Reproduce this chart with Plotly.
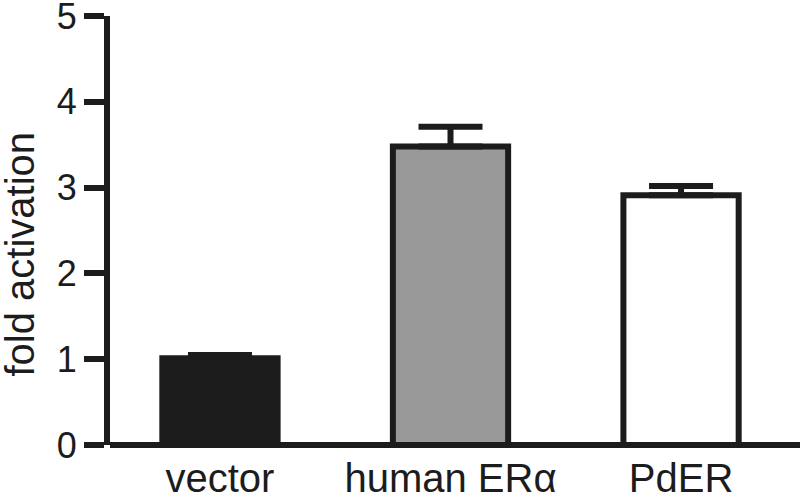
import plotly.graph_objects as go

categories = ["vector", "human ERα", "PdER"]
values = [1.01, 3.48, 2.91]
errors = [0.04, 0.23, 0.11]
fill_colors = ["#1c1c1c", "#999999", "#ffffff"]
y_ticks = [0, 1, 2, 3, 4, 5]

INK = "#1c1c1c"
FONT = "Liberation Sans, Arial, Helvetica, sans-serif"

fig = go.Figure()
fig.add_trace(go.Bar(
    x=categories,
    y=values,
    width=0.5,
    marker=dict(color=fill_colors, line=dict(color=INK, width=6)),
    error_y=dict(type="data", array=errors, arrayminus=[0] * len(errors),
                 symmetric=False, color=INK, thickness=6, width=32),
    showlegend=False,
))

fig.update_layout(
    width=800, height=500,
    margin=dict(l=110, r=0, t=16, b=55, autoexpand=False),
    paper_bgcolor="white", plot_bgcolor="white",
    font=dict(family=FONT, color=INK),
)
fig.update_xaxes(
    range=[-0.477, 2.516], automargin=False,
    showline=False, showgrid=False, zeroline=False,
    ticks="", ticklabelstandoff=6,
    tickfont=dict(size=40, family=FONT, color=INK),
)
fig.update_yaxes(
    range=[0, 5], tickvals=y_ticks, automargin=False,
    showline=True, linecolor=INK, linewidth=6,
    ticks="outside", ticklen=20, tickwidth=6, tickcolor=INK,
    showgrid=False, ticklabeloverflow="allow",
    zeroline=True, zerolinecolor=INK, zerolinewidth=6,
    tickfont=dict(size=36, family=FONT, color=INK),
)
fig.add_annotation(
    text="fold activation", textangle=-90,
    xref="paper", yref="paper", x=0, y=0.444, xshift=-90,
    xanchor="center", yanchor="middle", showarrow=False,
    font=dict(size=40, family=FONT, color=INK),
)

fig.write_html(
    "out.html",
    config={"displayModeBar": False},
    post_script="document.body.style.margin='0';document.body.style.overflow='hidden';",
)
